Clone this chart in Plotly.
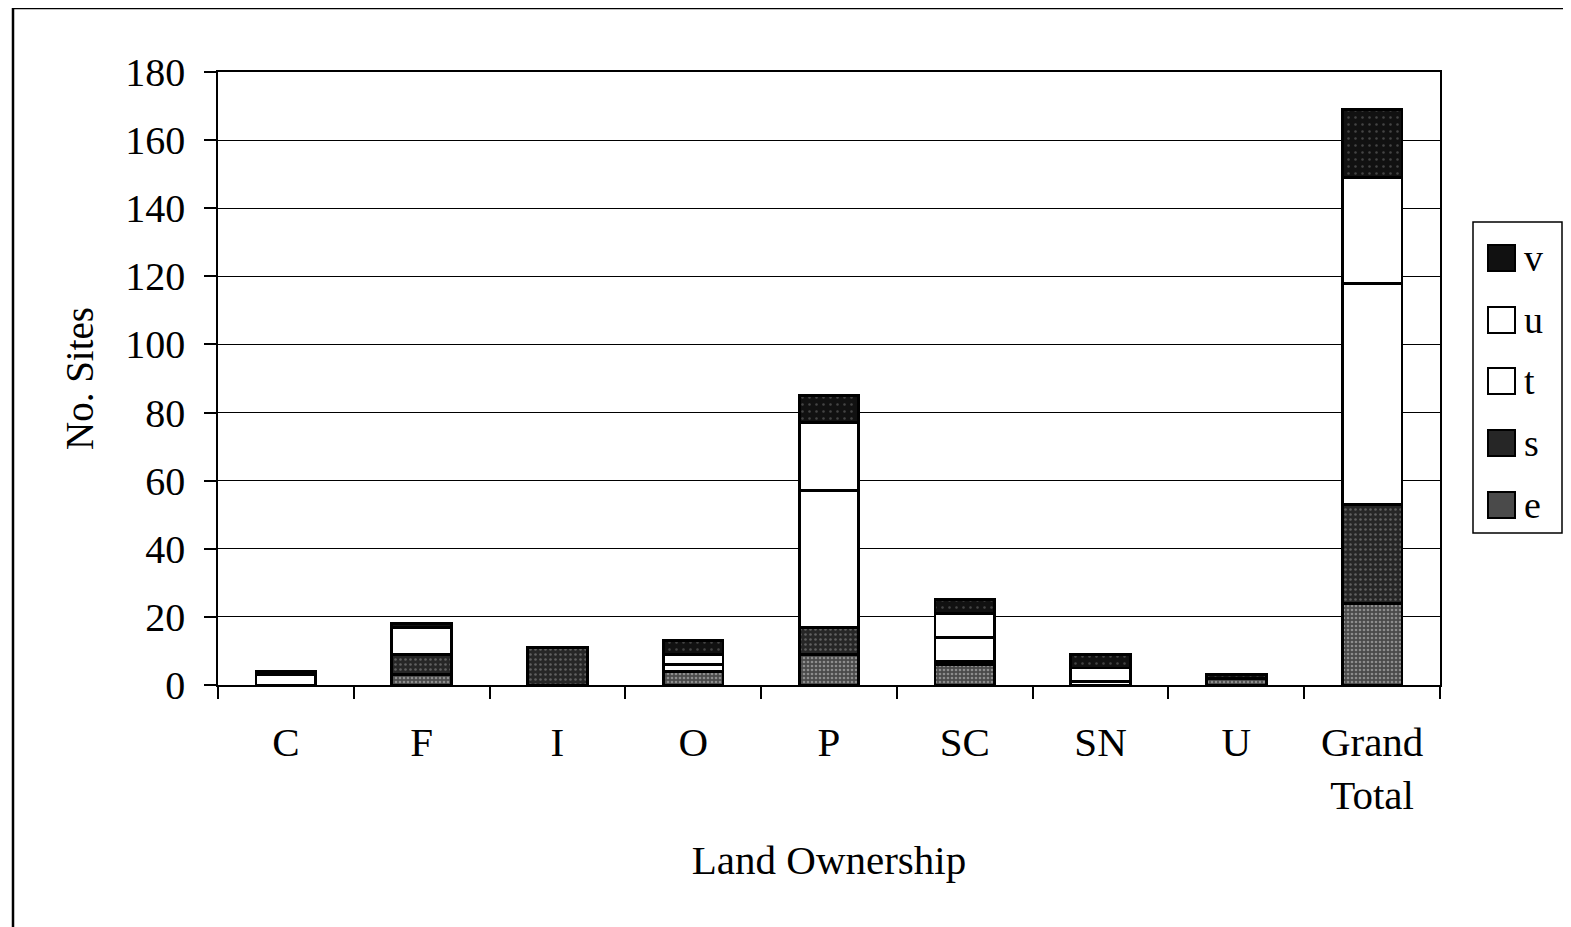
import plotly.graph_objects as go

categories = ["C", "F", "I", "O", "P", "SC", "SN", "U", "Grand<br>Total"]
e_vals = [0, 3, 0, 4, 9, 6, 0, 2, 24]
s_vals = [0, 6, 11, 0, 8, 1, 0, 0, 29]
t_vals = [3, 8, 0, 2, 40, 7, 1, 0, 65]
u_vals = [0, 0, 0, 3, 20, 7, 4, 0, 31]
v_vals = [1, 1, 0, 4, 8, 4, 4, 1, 20]

FONT = "Liberation Serif, Times New Roman, serif"

series = [
    ("e", e_vals, "#4a4a4a", dict(shape=".", fgcolor="#d0d0d0", size=4, solidity=0.35)),
    ("s", s_vals, "#262626", dict(shape=".", fgcolor="#9a9a9a", size=5, solidity=0.2)),
    ("t", t_vals, "white", None),
    ("u", u_vals, "white", None),
    ("v", v_vals, "#111111", dict(shape=".", fgcolor="#777777", size=7, solidity=0.1)),
]

fig = go.Figure()
for name, vals, color, pat in series:
    marker = dict(color=color, line=dict(color="black", width=2.8))
    if pat:
        marker["pattern"] = pat
    fig.add_trace(go.Bar(x=categories, y=vals, name=name, marker=marker, showlegend=False))

OFF = 8  # default body margin of the html page
W, H = 1571 - OFF, 927 - OFF
L, T = 218 - OFF, 72 - OFF
R = W - (1440 - OFF)
B = H - (685 - OFF)
PW, PH = W - L - R, H - T - B

def px(x):  # reference pixel -> paper coordinate
    return (x - OFF - L) / PW

def py(y):
    return (H - B - (y - OFF)) / PH

fig.update_layout(
    barmode="stack",
    bargap=0.56,
    width=W, height=H,
    paper_bgcolor="white", plot_bgcolor="white",
    margin=dict(l=L, r=R, t=T, b=B, autoexpand=False),
    font=dict(family=FONT, size=36, color="black"),
    showlegend=False,
)

fig.update_xaxes(
    showline=True, linecolor="black", linewidth=1.5, mirror=True,
    ticks="outside", ticklen=12, tickcolor="black", tickwidth=1.5,
    tickson="boundaries", ticklabelstandoff=20,
    tickfont=dict(family=FONT, size=41),
    title=dict(text="Land Ownership", font=dict(family=FONT, size=41), standoff=28),
)
fig.update_yaxes(
    range=[0, 180], dtick=20,
    showline=True, linecolor="black", linewidth=1.5, mirror=True,
    showgrid=True, gridcolor="black", gridwidth=1.2,
    ticks="outside", ticklen=12, tickcolor="black", tickwidth=1.5,
    ticklabelstandoff=11,
    tickfont=dict(family=FONT, size=40),
    title=dict(text="No. Sites", font=dict(family=FONT, size=39), standoff=20),
    zeroline=False,
)

# outer frame of the page (left and top edges visible)
fig.add_shape(type="rect", xref="paper", yref="paper",
              x0=px(13), x1=px(1600), y0=py(960), y1=py(8),
              line=dict(color="black", width=2.5), layer="below")

# legend drawn manually (large swatches as in the reference)
fig.add_shape(type="rect", xref="paper", yref="paper",
              x0=px(1473), x1=px(1562), y0=py(533), y1=py(222),
              line=dict(color="black", width=1.5), fillcolor="white")
legend_items = [("v", "#111111"), ("u", "white"), ("t", "white"), ("s", "#262626"), ("e", "#4a4a4a")]
ycent = [258, 320, 381, 443, 505]
for (name, col), yc in zip(legend_items, ycent):
    fig.add_shape(type="rect", xref="paper", yref="paper",
                  x0=px(1488), x1=px(1515), y0=py(yc + 13), y1=py(yc - 13),
                  line=dict(color="black", width=2), fillcolor=col)
    fig.add_annotation(xref="paper", yref="paper", x=px(1522), y=py(yc),
                       text=name, showarrow=False, xanchor="left", yanchor="middle",
                       font=dict(family=FONT, size=38))

fig.write_html("out.html")
